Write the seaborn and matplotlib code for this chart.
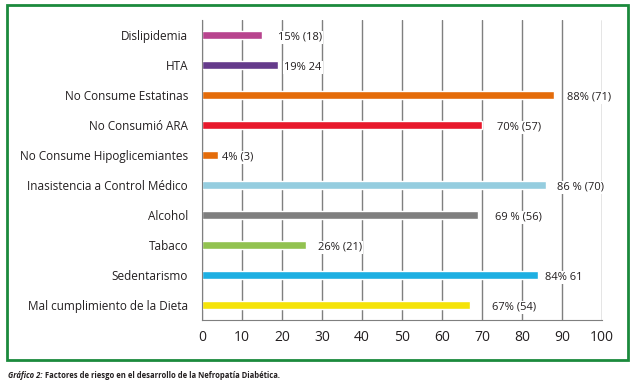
import pandas as pd
import numpy as np
import matplotlib
matplotlib.use('Agg')
import matplotlib.pyplot as plt
from matplotlib.patches import Rectangle
import seaborn as sns

categorias = ['Dislipidemia', 'HTA', 'No Consume Estatinas', 'No Consumió ARA',
              'No Consume Hipoglicemiantes', 'Inasistencia a Control Médico',
              'Alcohol', 'Tabaco', 'Sedentarismo', 'Mal cumplimiento de la Dieta']
valores = [15, 19, 88, 70, 4, 86, 69, 26, 84, 67]
etiquetas = ['15% (18)', '19% 24', '88% (71)', '70% (57)', '4% (3)',
             '86 % (70)', '69 % (56)', '26% (21)', '84% 61', '67% (54)']
colores = ['#b8448e', '#653b8b', '#e46c0a', '#e8192c', '#e46c0a',
           '#95cddf', '#7f7f7f', '#92c250', '#1eafe2', '#f5e30a']
# separacion de cada etiqueta respecto a su barra (unidades del eje)
label_dx = [4, 1.5, 3.2, 3.8, 1, 2.8, 4.2, 3, 1.8, 5.5]

df = pd.DataFrame({'factor': categorias, 'pct': valores})

sns.set_style('white')
plt.rcParams['font.family'] = ['Open Sans', 'DejaVu Sans']

fig = plt.figure(figsize=(6.32, 3.82), dpi=100)
ax = fig.add_axes([202/632, 1-320/382, 400/632, 300/382])

sns.barplot(data=df, x='pct', y='factor', hue='factor', palette=colores,
            width=0.24, legend=False, ax=ax, saturation=1)

for i, (v, t, dx) in enumerate(zip(valores, etiquetas, label_dx)):
    ax.text(v + dx, i + 0.08, t, va='center', ha='left', fontsize=8, color='#231f20',
            bbox=dict(facecolor='white', edgecolor='none', pad=1), clip_on=False)

ax.set_xlim(0, 100)
ax.set_ylim(9.5, -0.5)
ax.set_xticks(np.arange(0, 101, 10))
ax.grid(axis='x', color='#7f7f7f', linewidth=1)
ax.set_axisbelow(True)
ax.set_xlabel('')
ax.set_ylabel('')
for s in ['top', 'right']:
    ax.spines[s].set_visible(False)
ax.spines['left'].set_color('#7f7f7f')
ax.spines['bottom'].set_color('#7f7f7f')
ax.tick_params(axis='both', length=0, colors='#231f20')
ax.tick_params(axis='y', pad=10, labelsize=8.5)
ax.tick_params(axis='x', pad=7, labelsize=10)

fig.patches.append(Rectangle((7/632, 1-360/382), 621/632, 355/382,
                             transform=fig.transFigure, fill=False,
                             edgecolor='#1b8a3c', linewidth=2))

fig.text(8/632, 1-376/382, 'Gráfico 2:', fontsize=5.5, style='italic',
         fontweight='bold', color='#231f20', va='center')
fig.text(45/632, 1-376/382, 'Factores de riesgo en el desarrollo de la Nefropatía Diabética.',
         fontsize=5.5, fontweight='bold', color='#231f20', va='center')

fig.savefig('out.png', dpi=100)
